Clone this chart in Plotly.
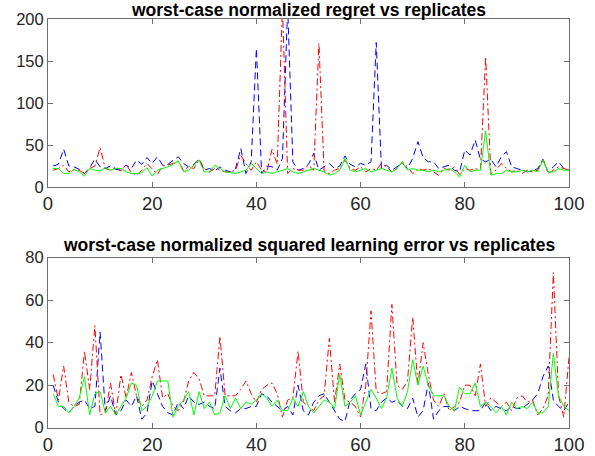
import plotly.graph_objects as go

x = list(range(1, 101))

# Top panel: worst-case normalized regret
regret_blue = [25, 27, 45, 25, 24, 21, 16, 23, 33, 24,
               22, 25, 21, 20, 26, 22, 32, 27, 35, 28,
               36, 26, 27, 31, 36, 28, 24, 27, 33, 20,
               22, 19, 24, 20, 18, 22, 46, 16, 30, 165,
               16, 25, 24, 20, 34, 215, 30, 20, 22, 27,
               40, 20, 24, 28, 22, 25, 37, 27, 24, 28,
               26, 30, 172, 22, 26, 20, 24, 28, 22, 34,
               54, 35, 30, 30, 22, 24, 26, 20, 18, 44,
               38, 56, 33, 30, 33, 24, 36, 42, 24, 22,
               20, 18, 19, 22, 33, 18, 24, 30, 22, 20]
regret_red = [20, 22, 26, 18, 21, 20, 16, 22, 25, 47,
              22, 20, 24, 19, 27, 17, 14, 20, 28, 22,
              15, 25, 26, 28, 31, 20, 24, 22, 33, 22,
              18, 22, 20, 18, 18, 20, 38, 28, 20, 30,
              20, 18, 45, 27, 215, 16, 22, 20, 20, 26,
              20, 171, 18, 16, 20, 22, 32, 22, 20, 24,
              18, 22, 20, 28, 24, 18, 22, 30, 24, 16,
              22, 20, 22, 18, 14, 22, 20, 24, 15, 22,
              20, 22, 20, 155, 16, 20, 28, 22, 18, 20,
              16, 20, 18, 20, 33, 16, 20, 24, 22, 20]
regret_green = [22, 22, 16, 16, 21, 18, 13, 22, 20, 19,
                23, 20, 22, 22, 18, 16, 16, 17, 23, 13,
                20, 22, 24, 27, 31, 18, 20, 26, 32, 18,
                18, 26, 22, 18, 17, 16, 18, 20, 28, 22,
                16, 18, 16, 18, 20, 22, 18, 16, 18, 20,
                22, 20, 18, 14, 16, 20, 34, 20, 18, 20,
                22, 18, 20, 22, 20, 18, 22, 30, 20, 22,
                20, 20, 18, 20, 18, 20, 22, 18, 12, 26,
                18, 20, 20, 67, 14, 16, 16, 20, 18, 18,
                20, 18, 20, 18, 32, 18, 18, 22, 20, 20]

# Bottom panel: worst-case normalized squared learning error
err_blue = [20, 12, 9, 7, 10, 12, 13, 9, 10, 45,
            8, 15, 6, 8, 13, 10, 15, 4, 7, 22,
            16, 10, 7, 6, 12, 9, 15, 12, 11, 12,
            10, 9, 28, 10, 8, 7, 9, 9, 10, 10,
            16, 15, 12, 10, 8, 10, 6, 20, 8, 6,
            12, 15, 16, 12, 8, 4, 3, 13, 16, 18,
            30, 9, 8, 12, 14, 12, 13, 10, 9, 14,
            5, 8, 21, 4, 8, 10, 10, 8, 10, 9,
            8, 8, 8, 12, 8, 10, 9, 8, 10, 9,
            9, 11, 13, 16, 24, 29, 13, 10, 8, 12]
err_red = [25, 13, 29, 12, 10, 11, 36, 18, 48, 6,
           7, 21, 6, 25, 14, 26, 15, 10, 13, 24,
           32, 14, 16, 10, 8, 12, 22, 26, 23, 15,
           15, 15, 43, 15, 15, 15, 18, 22, 16, 12,
           18, 20, 21, 16, 5, 13, 14, 36, 12, 10,
           8, 13, 15, 42, 12, 30, 13, 12, 10, 5,
           20, 55, 17, 16, 17, 58, 20, 18, 22, 52,
           20, 40, 25, 13, 10, 16, 8, 10, 12, 20,
           20, 15, 30, 10, 14, 12, 10, 12, 8, 14,
           15, 12, 13, 6, 9, 15, 73, 15, 5, 33]
err_green = [16, 10, 10, 7, 10, 14, 24, 6, 16, 17,
             7, 10, 6, 10, 14, 21, 20, 8, 10, 15,
             22, 22, 22, 5, 10, 13, 17, 6, 17, 9,
             12, 6, 7, 15, 9, 14, 9, 12, 11, 13,
             16, 14, 10, 13, 8, 8, 14, 10, 17, 10,
             7, 10, 13, 12, 9, 25, 10, 12, 15, 6,
             12, 18, 14, 9, 14, 28, 14, 10, 17, 32,
             20, 29, 20, 15, 15, 15, 10, 8, 19, 16,
             16, 21, 10, 12, 10, 7, 10, 6, 12, 9,
             10, 9, 12, 7, 7, 10, 35, 15, 10, 8]

title_top = "worst-case normalized regret vs replicates"
title_bottom = "worst-case normalized squared learning error vs replicates"

W, H = 595, 456
FONT = "Liberation Sans, Arial, Helvetica, sans-serif"

fig = go.Figure()

def add_series(xa, ya, blue, red, green):
    fig.add_trace(go.Scatter(x=x, y=blue, mode="lines", xaxis=xa, yaxis=ya,
                             line=dict(color="#0000ff", width=1, dash="7px,4px"),
                             showlegend=False))
    fig.add_trace(go.Scatter(x=x, y=red, mode="lines", xaxis=xa, yaxis=ya,
                             line=dict(color="#ff0000", width=1, dash="7px,3px,2px,3px"),
                             showlegend=False))
    fig.add_trace(go.Scatter(x=x, y=green, mode="lines", xaxis=xa, yaxis=ya,
                             line=dict(color="#00ff00", width=1),
                             showlegend=False))

add_series("x", "y", regret_blue, regret_red, regret_green)
add_series("x2", "y2", err_blue, err_red, err_green)

x0, x1 = 48 / W, 569 / W
top_dom = [1 - 187 / H, 1 - 19 / H]
bot_dom = [1 - 427.7 / H, 1 - 257.7 / H]

axis_common = dict(showline=True, linecolor="#6e6e6e", linewidth=1, mirror="ticks",
                   ticks="inside", ticklen=5, tickcolor="#6e6e6e", showgrid=False,
                   zeroline=False, automargin=False)
xtick_font = dict(family=FONT, size=18.5, color="#262626")
ytick_font = dict(family=FONT, size=16.5, color="#262626")

fig.update_layout(
    width=W, height=H,
    margin=dict(l=0, r=0, t=0, b=0, pad=0, autoexpand=False),
    paper_bgcolor="white", plot_bgcolor="white",
    xaxis=dict(domain=[x0, x1], range=[0, 100], tickvals=[0, 20, 40, 60, 80, 100],
               anchor="y", tickfont=xtick_font, **axis_common),
    yaxis=dict(domain=top_dom, range=[0, 200], tickvals=[0, 50, 100, 150, 200],
               anchor="x", tickfont=ytick_font, **axis_common),
    xaxis2=dict(domain=[x0, x1], range=[0, 100], tickvals=[0, 20, 40, 60, 80, 100],
                anchor="y2", tickfont=xtick_font, **axis_common),
    yaxis2=dict(domain=bot_dom, range=[0, 80], tickvals=[0, 20, 40, 60, 80],
                anchor="x2", tickfont=ytick_font, **axis_common),
    annotations=[
        dict(text="<b>%s</b>" % title_top, x=(x0 + x1) / 2, y=1 - 10.5 / H,
             xref="paper", yref="paper", showarrow=False, xanchor="center", yanchor="middle",
             font=dict(family=FONT, size=17.5, color="black")),
        dict(text="<b>%s</b>" % title_bottom, x=(x0 + x1) / 2, y=1 - 245 / H,
             xref="paper", yref="paper", showarrow=False, xanchor="center", yanchor="middle",
             font=dict(family=FONT, size=17.5, color="black")),
    ],
)

fig.write_html("out.html", config={"displayModeBar": False},
               post_script="document.body.style.margin='0px';")
